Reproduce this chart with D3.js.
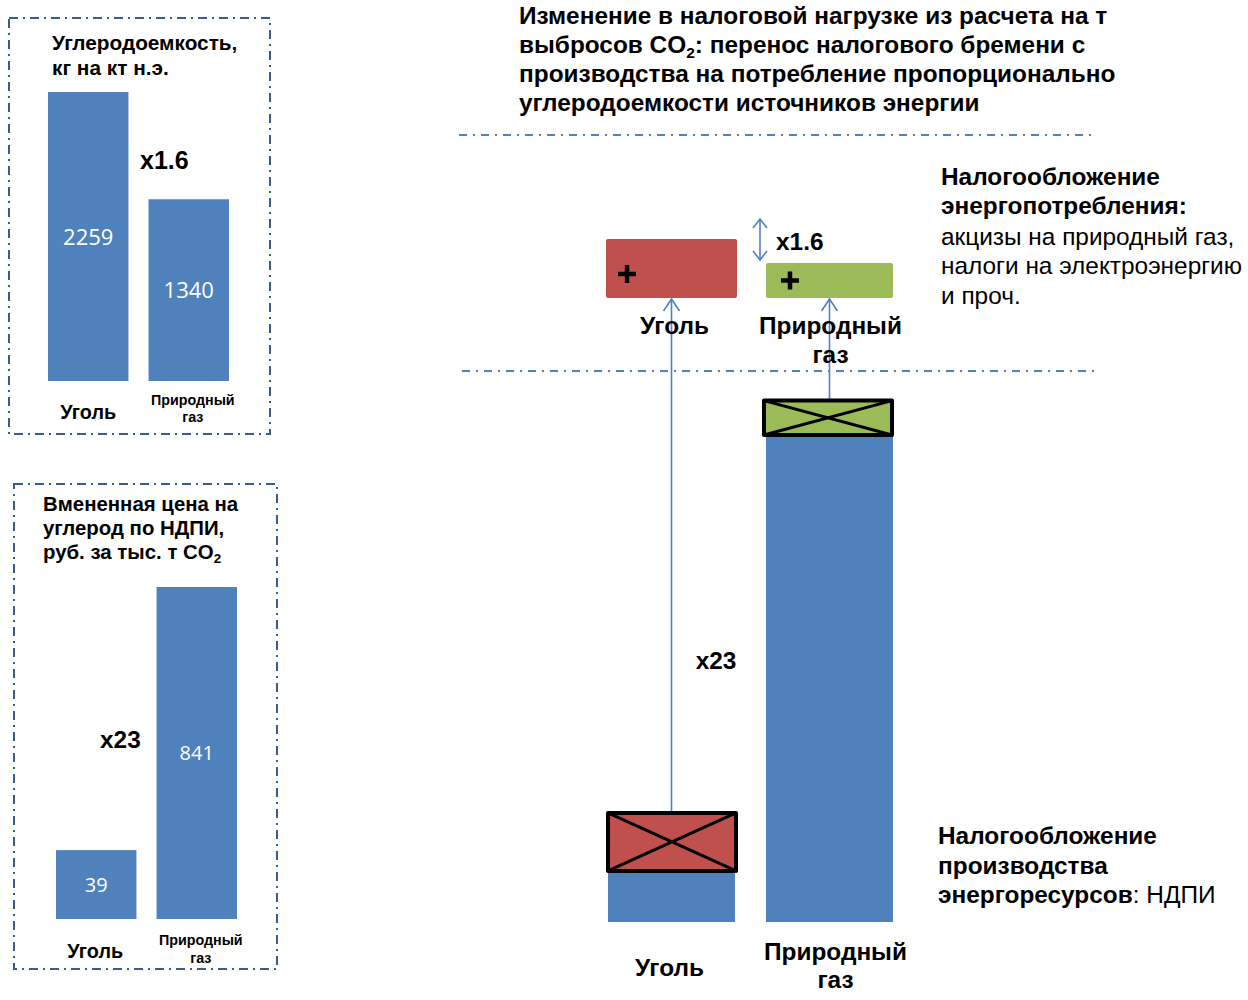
<!DOCTYPE html>
<html lang="ru">
<head>
<meta charset="utf-8">
<title>Налоговая нагрузка на т CO2</title>
<script src="https://cdn.jsdelivr.net/npm/d3@7/dist/d3.min.js"></script>
<style>
  html, body { margin: 0; padding: 0; background: #ffffff; }
  svg { display: block; font-family: "Liberation Sans", Arial, sans-serif; }
</style>
</head>
<body>
<script>
// Energy sources compared in every panel
const sources = ["Уголь", "Природный газ"];
const sourceLines = [["Уголь"], ["Природный", "газ"]];

// Carbon intensity, kg per kt of oil equivalent
const carbonIntensity = [2259, 1340];
// Implied carbon price of the mineral extraction tax, rub per thousand t CO2
const impliedCarbonPrice = [39, 841];

const intensityRatioLabel = "x1.6";
const priceRatioLabel = "x23";

const titleLines = [
  ["Изменение в налоговой нагрузке из расчета на т"],
  ["выбросов CO", "2", ": перенос налогового бремени с"],
  ["производства на потребление пропорционально"],
  ["углеродоемкости источников энергии"]
];

const BLUE = "#4f81bd", RED = "#c0504d", GREEN = "#9bbb59", FRAME = "#385d8a", INK = "#000000";
const fillFor = [RED, GREEN];
const BIG = 24.4;

const W = 1248, H = 1000;
const svg = d3.select("body").append("svg").attr("width", W).attr("height", H);
svg.append("rect").attr("width", W).attr("height", H).attr("fill", "#fff");

function frame(x, y, w, h) {
  svg.append("rect").attr("x", x).attr("y", y).attr("width", w).attr("height", h)
    .attr("fill", "none").attr("stroke", FRAME).attr("stroke-width", 2)
    .attr("stroke-dasharray", "9,5,2,5");
}
function text(g, x, y, str, size, weight, anchor, fill) {
  return g.append("text").attr("x", x).attr("y", y).text(str)
    .attr("font-size", size).attr("font-weight", weight || "normal")
    .attr("text-anchor", anchor || "start").attr("fill", fill || INK);
}

// ---------- Panel 1: carbon intensity ----------
frame(9, 18, 261, 416);
const p1 = svg.append("g");
text(p1, 52, 50, "Углеродоемкость,", 20.8, "bold");
text(p1, 52, 75, "кг на кт н.э.", 20.8, "bold");

const x1 = d3.scaleBand().domain(sources).range([48, 229]).paddingInner(0.2);
const y1 = d3.scaleLinear().domain([-217, 2259]).range([381, 92]);
p1.selectAll("rect.bar").data(carbonIntensity).join("rect").attr("class", "bar")
  .attr("x", (d, i) => x1(sources[i])).attr("width", x1.bandwidth())
  .attr("y", d => y1(d)).attr("height", d => y1.range()[0] - y1(d)).attr("fill", BLUE);
p1.selectAll("text.val").data(carbonIntensity).join("text").attr("class", "val")
  .attr("x", (d, i) => x1(sources[i]) + x1.bandwidth() / 2)
  .attr("y", d => (y1(d) + y1.range()[0]) / 2 + 8)
  .attr("text-anchor", "middle").attr("fill", "#fff")
  .attr("font-family", "'Open Sans', 'Noto Sans', sans-serif").attr("font-size", 22)
  .text(d => d);
text(p1, 140, 169, intensityRatioLabel, 25, "bold");
text(p1, x1(sources[0]) + x1.bandwidth() / 2, 419, sourceLines[0][0], 19.8, "bold", "middle");
text(p1, x1(sources[1]) + x1.bandwidth() / 2 + 4, 405, sourceLines[1][0], 14.3, "bold", "middle");
text(p1, x1(sources[1]) + x1.bandwidth() / 2 + 4, 422, sourceLines[1][1], 14.3, "bold", "middle");

// ---------- Panel 2: implied carbon price ----------
frame(14, 484, 263, 485);
const p2 = svg.append("g");
text(p2, 43, 511, "Вмененная цена на", 20.4, "bold");
text(p2, 43, 535, "углерод по НДПИ,", 20.4, "bold");
const t3 = text(p2, 43, 559, "руб. за тыс. т CO", 20.4, "bold");
t3.append("tspan").attr("font-size", 13.5).attr("dy", 4).text("2");

const x2 = d3.scaleBand().domain(sources).range([56, 237]).paddingInner(0.2);
const y2 = d3.scaleLinear().domain([-171, 841]).range([919, 587]);
p2.selectAll("rect.bar").data(impliedCarbonPrice).join("rect").attr("class", "bar")
  .attr("x", (d, i) => x2(sources[i])).attr("width", x2.bandwidth())
  .attr("y", d => y2(d)).attr("height", d => y2.range()[0] - y2(d)).attr("fill", BLUE);
p2.selectAll("text.val").data(impliedCarbonPrice).join("text").attr("class", "val")
  .attr("x", (d, i) => x2(sources[i]) + x2.bandwidth() / 2)
  .attr("y", d => (y2(d) + y2.range()[0]) / 2 + 7)
  .attr("text-anchor", "middle").attr("fill", "#fff")
  .attr("font-family", "'Open Sans', 'Noto Sans', sans-serif").attr("font-size", 20)
  .text(d => d);
text(p2, 100, 748, priceRatioLabel, 24.4, "bold");
text(p2, x2(sources[0]) + x2.bandwidth() / 2 - 1, 958, sourceLines[0][0], 19.8, "bold", "middle");
text(p2, x2(sources[1]) + x2.bandwidth() / 2 + 4, 945, sourceLines[1][0], 14.3, "bold", "middle");
text(p2, x2(sources[1]) + x2.bandwidth() / 2 + 4, 963, sourceLines[1][1], 14.3, "bold", "middle");

// ---------- Main scheme: shifting the burden ----------
const m = svg.append("g");
titleLines.forEach((parts, i) => {
  const t = m.append("text").attr("x", 519).attr("y", 24 + i * 29)
    .attr("font-size", BIG).attr("font-weight", "bold").attr("fill", INK);
  if (parts.length === 1) t.text(parts[0]);
  else {
    t.append("tspan").text(parts[0]);
    t.append("tspan").attr("font-size", 15.5).attr("dy", 5).text(parts[1]);
    t.append("tspan").attr("dy", -5).text(parts[2]);
  }
});

function dashDot(x0, x1_, y) {
  m.append("line").attr("x1", x0).attr("x2", x1_).attr("y1", y).attr("y2", y)
    .attr("stroke", BLUE).attr("stroke-width", 2).attr("stroke-dasharray", "8,6,2,6");
}
dashDot(459, 1094, 135);
dashDot(462, 1098, 371);

const xm = d3.scaleBand().domain(sources).range([608, 893]).paddingInner(0.196);
const ym = d3.scaleLinear().domain([-54, 841]).range([922, 430]);
const hCross = d3.scaleLinear().domain([0, 2259]).range([0, 58]);
const hTop = d3.scaleLinear().domain([0, 2259]).range([0, 59]);
const topBase = 298;
const crossSink = [0, 5];
const cx = i => xm(sources[i]) + xm.bandwidth() / 2;
const crossTop = (d, i) => ym(d) + crossSink[i] - hCross(carbonIntensity[i]);

// production tax bars (НДПИ)
m.selectAll("rect.prod").data(impliedCarbonPrice).join("rect").attr("class", "prod")
  .attr("x", (d, i) => xm(sources[i])).attr("width", xm.bandwidth())
  .attr("y", d => ym(d)).attr("height", d => ym.range()[0] - ym(d)).attr("fill", BLUE);

// arrows from the removed production tax up to the consumption tax
function chevron(x, y, dir, hw, hh) {
  m.append("path").attr("d", `M${x - hw},${y + dir * hh}L${x},${y}L${x + hw},${y + dir * hh}`)
    .attr("fill", "none").attr("stroke", BLUE).attr("stroke-width", 1.6);
}
impliedCarbonPrice.forEach((d, i) => {
  m.append("line").attr("x1", cx(i)).attr("x2", cx(i)).attr("y1", crossTop(d, i)).attr("y2", topBase + 1)
    .attr("stroke", BLUE).attr("stroke-width", 1.6);
  chevron(cx(i), topBase + 1, 1, 8, 12);
});

// crossed-out boxes: the part of the production tax that is removed
impliedCarbonPrice.forEach((d, i) => {
  const h = hCross(carbonIntensity[i]);
  const bx = xm(sources[i]) + (i === 0 ? 0 : -2), bw = xm.bandwidth() + 1;
  const by = crossTop(d, i);
  m.append("rect").attr("x", bx).attr("y", by).attr("width", bw).attr("height", h)
    .attr("fill", fillFor[i]).attr("stroke", "#000").attr("stroke-width", 4)
    .attr("stroke-linejoin", "round");
  m.append("path").attr("d", `M${bx},${by}L${bx + bw},${by + h}M${bx + bw},${by}L${bx},${by + h}`)
    .attr("stroke", "#000").attr("stroke-width", 3);
});

// consumption tax boxes
carbonIntensity.forEach((v, i) => {
  const h = hTop(v);
  const bx = xm(sources[i]) + (i === 0 ? -2 : 0), bw = xm.bandwidth() + (i === 0 ? 4 : 0);
  m.append("rect").attr("x", bx).attr("y", topBase - h).attr("width", bw).attr("height", h)
    .attr("rx", 2).attr("fill", fillFor[i]);
  const px = bx + (i === 0 ? 21 : 24), py = topBase - Math.min(h / 2, 24);
  m.append("path").attr("d", `M${px - 9},${py}H${px + 9}M${px},${py - 9}V${py + 9}`)
    .attr("stroke", "#000").attr("stroke-width", 4.5);
});

// ratio marker between the two consumption boxes
const ay0 = topBase - hTop(carbonIntensity[0]) - 20;
const ay1 = topBase - hTop(carbonIntensity[1]) - 3;
m.append("line").attr("x1", 760).attr("x2", 760).attr("y1", ay0).attr("y2", ay1)
  .attr("stroke", BLUE).attr("stroke-width", 1.6);
chevron(760, ay0, 1, 7, 9);
chevron(760, ay1, -1, 7, 9);
text(m, 776, 250, intensityRatioLabel, BIG, "bold");
text(m, 716, 669, priceRatioLabel, BIG, "bold", "middle");

// category labels
text(m, cx(0) + 3, 334, sourceLines[0][0], BIG, "bold", "middle");
text(m, cx(1) + 1, 334, sourceLines[1][0], BIG, "bold", "middle");
text(m, cx(1) + 1, 363, sourceLines[1][1], BIG, "bold", "middle");
text(m, cx(0) - 2, 976, sourceLines[0][0], BIG, "bold", "middle");
text(m, cx(1) + 6, 960, sourceLines[1][0], BIG, "bold", "middle");
text(m, cx(1) + 6, 988, sourceLines[1][1], BIG, "bold", "middle");

// side notes
text(m, 941, 185, "Налогообложение", BIG, "bold");
text(m, 941, 214, "энергопотребления:", BIG, "bold");
text(m, 941, 245, "акцизы на природный газ,", BIG);
text(m, 941, 274, "налоги на электроэнергию", BIG);
text(m, 941, 304, "и проч.", BIG);

text(m, 938, 844, "Налогообложение", BIG, "bold");
text(m, 938, 874, "производства", BIG, "bold");
const n3 = text(m, 938, 903, "энергоресурсов", BIG, "bold");
n3.append("tspan").attr("font-weight", "normal").text(": НДПИ");
</script>
</body>
</html>
